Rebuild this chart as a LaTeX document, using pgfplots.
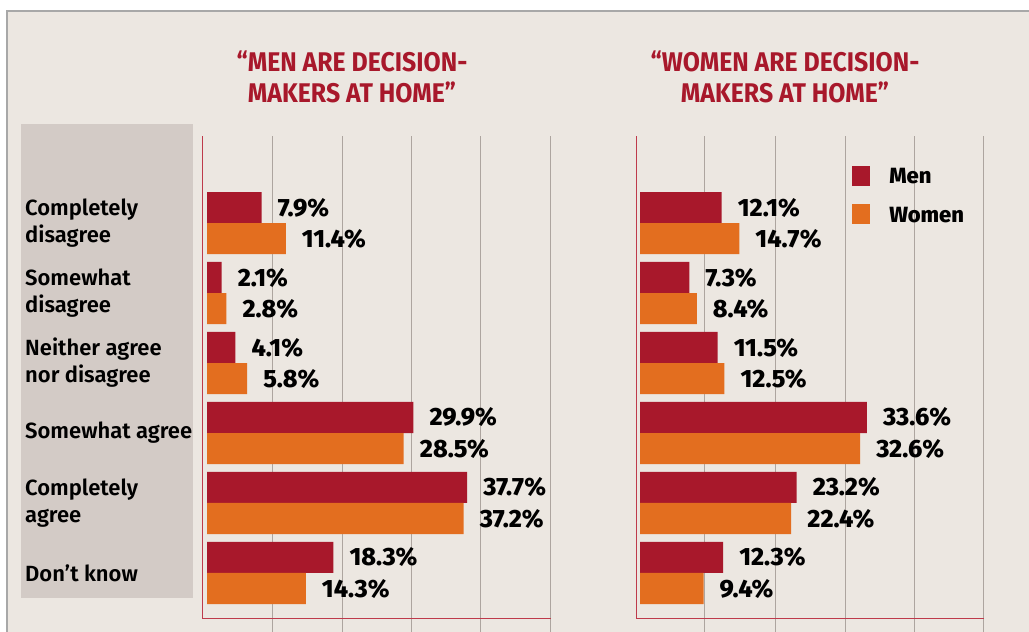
\documentclass[border=0pt]{standalone}
\usepackage{fontspec}
\setmainfont{Fira Sans}
\newfontfamily\firasemi{Fira Sans SemiBold}
\newfontfamily\firaxb{Fira Sans ExtraBold}
\usepackage{pgfplots}
\pgfplotsset{compat=1.18}

\definecolor{bg}{HTML}{ECE7E1}
\definecolor{panel}{HTML}{D3CBC6}
\definecolor{menred}{HTML}{A8182B}
\definecolor{womorange}{HTML}{E36E1F}
\definecolor{gridgray}{HTML}{ADA59F}
\definecolor{axisred}{HTML}{BE3A4B}
\definecolor{framegray}{HTML}{A8A8A8}

\pgfplotsset{
  panelstyle/.style={
    xbar, scale only axis, width=348pt, height=496pt,
    anchor=south west, clip=false,
    y dir=reverse, ymin=-1.243, ymax=5.843,
    ytick={0,1,2,3,4,5},
    xticklabels={}, major tick length=0pt,
    axis line style={draw=none},
    xmajorgrids, grid style={gridgray, line width=1pt},
    bar width=0.443,
    point meta=explicit symbolic,
    nodes near coords,
    nodes near coords style={font=\firaxb\fontsize{25}{25}\selectfont,
      anchor=west, inner sep=0pt, xshift=16pt, text=black},
  },
  menbar/.style={fill=menred, draw=none, bar shift=-0.2215},
  wombar/.style={fill=womorange, draw=none, bar shift=0.2215},
}

\begin{document}
\begin{tikzpicture}
\useasboundingbox (0,0) rectangle (1029pt,632pt);
\fill[white] (0,0) rectangle (1029pt,632pt);
\fill[bg] (7pt,0) rectangle (1029pt,621pt);
\draw[framegray, line width=1.5pt] (7pt,0) -- (7pt,621pt) -- (1029pt,621pt);
\fill[panel] (21pt,34pt) rectangle (193pt,508pt);

% titles
\begin{scope}[every node/.style={text=menred, font=\bfseries\fontsize{27}{27}\selectfont, anchor=base}]
\node at (352pt,560pt) {\scalebox{0.92}[1]{“MEN ARE DECISION-}};
\node at (352pt,529pt) {\scalebox{0.92}[1]{MAKERS AT HOME”}};
\node at (785pt,560pt) {\scalebox{0.92}[1]{“WOMEN ARE DECISION-}};
\node at (785pt,529pt) {\scalebox{0.92}[1]{MAKERS AT HOME”}};
\end{scope}

% left panel
\begin{axis}[panelstyle, at={(203pt,0pt)},
  xmin=-0.6, xmax=49.85, xtick={9.5,19.6,29.6,39.7,49.8},
  yticklabels={Completely\\disagree, Somewhat\\disagree, Neither agree\\nor disagree, Somewhat agree, Completely\\agree, Don’t know},
  yticklabel style={anchor=west, align=left, inner sep=0pt, xshift=-178pt,
    font=\firasemi\fontsize{22}{27}\selectfont},
]
\addplot[menbar] coordinates {(7.9,0) [7.9\%] (2.1,1) [2.1\%] (4.1,2) [4.1\%] (29.9,3) [29.9\%] (37.7,4) [37.7\%] (18.3,5) [18.3\%]};
\addplot[wombar] coordinates {(11.4,0) [11.4\%] (2.8,1) [2.8\%] (5.8,2) [5.8\%] (28.5,3) [28.5\%] (37.2,4) [37.2\%] (14.3,5) [14.3\%]};
\draw[axisred, line width=1pt] (axis cs:-0.6,-1.243) |- (axis cs:49.85,5.643);
\end{axis}

% right panel
\begin{axis}[panelstyle, at={(636pt,0pt)},
  xmin=-0.6, xmax=50.96, xtick={9.6,20,30.4,40.6,50.9},
  yticklabels={},
  legend style={at={(0.621,0.94)}, anchor=north west, draw=none, fill=none,
    inner sep=0pt, row sep=17pt, font=\firaxb\fontsize{22}{22}\selectfont,
    /tikz/every odd column/.append style={column sep=17pt}},
  legend cell align=left,
]
\addplot[menbar, legend image code/.code={\fill[menred] (0pt,-9pt) rectangle (18pt,11pt);}]
  coordinates {(12.1,0) [12.1\%] (7.3,1) [7.3\%] (11.5,2) [11.5\%] (33.6,3) [33.6\%] (23.2,4) [23.2\%] (12.3,5) [12.3\%]};
\addplot[wombar, legend image code/.code={\fill[womorange] (0pt,-9pt) rectangle (18pt,11pt);}]
  coordinates {(14.7,0) [14.7\%] (8.4,1) [8.4\%] (12.5,2) [12.5\%] (32.6,3) [32.6\%] (22.4,4) [22.4\%] (9.4,5) [9.4\%]};
\legend{Men, Women}
\draw[axisred, line width=1pt] (axis cs:-0.6,-1.243) |- (axis cs:50.96,5.643);
\end{axis}
\end{tikzpicture}
\end{document}
